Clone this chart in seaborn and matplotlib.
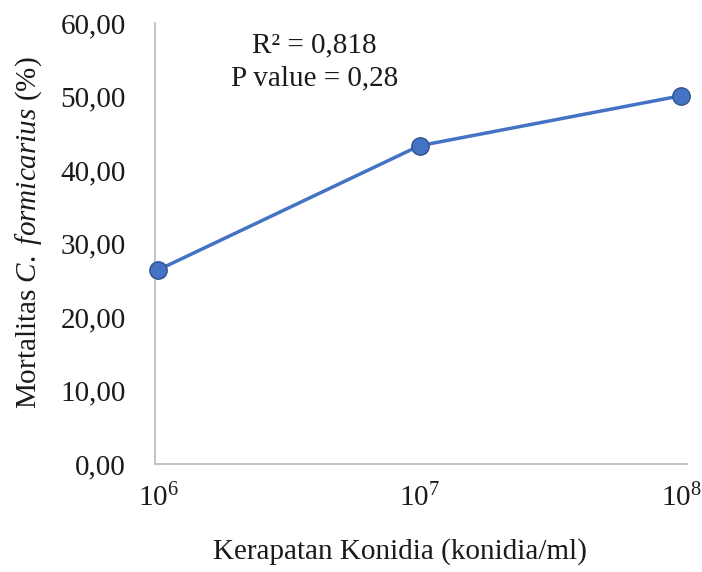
import matplotlib
matplotlib.use("Agg")
import matplotlib.pyplot as plt
import seaborn as sns
import pandas as pd
import numpy as np
from matplotlib.ticker import FuncFormatter, FixedLocator

# data
concentration = [1e6, 1e7, 1e8]
mortality = [26.4, 43.3, 50.1]
y_ticks = [0, 10, 20, 30, 40, 50, 60]
x_tick_labels = [r"$10^{6}$", r"$10^{7}$", r"$10^{8}$"]
annotation_lines = ["R\u00b2 = 0,818", "P value = 0,28"]

sns.set_theme(style="white")
plt.rcParams["font.family"] = ["Liberation Serif", "DejaVu Serif"]
plt.rcParams["mathtext.fontset"] = "custom"
plt.rcParams["mathtext.rm"] = "Liberation Serif"
plt.rcParams["mathtext.it"] = "Liberation Serif:italic"
plt.rcParams["mathtext.bf"] = "Liberation Serif:bold"

TXT = "#1a1a1a"
FS = 21

df = pd.DataFrame({"conc": concentration, "mort": mortality})

fig = plt.figure(figsize=(7.02, 5.72), dpi=100)
ax = fig.add_axes([155/702, 1 - 464/572, (687 - 155)/702, (464 - 23)/572])

sns.lineplot(data=df, x="conc", y="mort", ax=ax, color="#4472C4", linewidth=2.5,
             marker="o", markersize=12.5, markerfacecolor="#4472C4",
             markeredgecolor="#2F528F", markeredgewidth=1.0, clip_on=False, zorder=5)
ax.set_xlabel("")
ax.set_ylabel("")

ax.set_xscale("log")
ax.set_xlim(10**(6 - 3/261.5), 10**(8 + 6/261.5))
ax.set_ylim(0, 60)
ax.xaxis.set_major_locator(FixedLocator(concentration))
ax.xaxis.set_minor_locator(FixedLocator([]))
ax.set_xticklabels(x_tick_labels)
ax.set_yticks(y_ticks)
ax.yaxis.set_major_formatter(FuncFormatter(lambda v, p: f"{v:.2f}".replace(".", ",")))
ax.tick_params(axis="both", length=0, labelsize=FS, colors=TXT)
ax.tick_params(axis="y", pad=21)
ax.tick_params(axis="x", pad=14)

for s in ["top", "right"]:
    ax.spines[s].set_visible(False)
for s in ["left", "bottom"]:
    ax.spines[s].set_color("#BFBFBF")
    ax.spines[s].set_linewidth(1.3)

fig.text(400/702, 1 - 552/572, "Kerapatan Konidia (konidia/ml)", fontsize=FS, color=TXT,
         ha="center", va="center")
fig.text(29/702, 1 - 233/572, r"Mortalitas $\mathit{C.\ formicarius}$ (%)", fontsize=FS,
         color=TXT, ha="center", va="center", rotation=90)

ax.text(0.30, 0.95, annotation_lines[0], transform=ax.transAxes, ha="center", va="center",
        fontsize=FS, color=TXT)
ax.text(0.30, 0.875, annotation_lines[1], transform=ax.transAxes, ha="center", va="center",
        fontsize=FS, color=TXT)

fig.savefig("out.png", dpi=100)
